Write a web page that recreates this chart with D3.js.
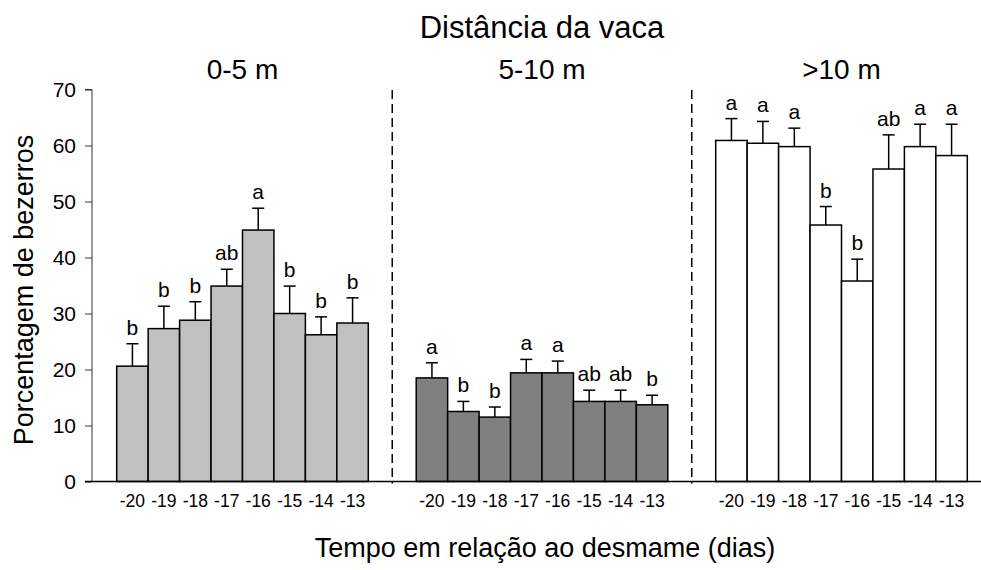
<!DOCTYPE html>
<html>
<head>
<meta charset="utf-8">
<script src="https://cdn.jsdelivr.net/npm/d3@7"></script>
<style>
  body { margin: 0; background: #fff; }
  text { font-family: Arial, "Liberation Sans", sans-serif; fill: #000; }
</style>
</head>
<body>
<script>
const width = 981;
const height = 570;

// data
const panels = ["0-5 m", "5-10 m", ">10 m"];
const days = ["-20", "-19", "-18", "-17", "-16", "-15", "-14", "-13"];
const yTicks = [0, 10, 20, 30, 40, 50, 60, 70];

const near = [20.6, 27.3, 28.8, 34.9, 44.9, 30.0, 26.2, 28.3];
const nearErr = [4.0, 4.0, 3.3, 3.0, 3.9, 4.9, 3.2, 4.5];
const nearLetters = ["b", "b", "b", "ab", "a", "b", "b", "b"];

const mid = [18.5, 12.5, 11.5, 19.4, 19.4, 14.3, 14.3, 13.7];
const midErr = [2.7, 1.8, 1.8, 2.4, 2.1, 2.0, 2.0, 1.7];
const midLetters = ["a", "b", "b", "a", "a", "ab", "ab", "b"];

const far = [60.9, 60.4, 59.8, 45.8, 35.8, 55.8, 59.8, 58.2];
const farErr = [3.9, 3.9, 3.3, 3.3, 3.9, 6.1, 4.0, 5.6];
const farLetters = ["a", "a", "a", "b", "b", "ab", "a", "a"];

const fills = ["#c0c0c0", "#808080", "#ffffff"];

let series = [
  { panel: panels[0], values: near, err: nearErr, letters: nearLetters },
  { panel: panels[1], values: mid, err: midErr, letters: midLetters },
  { panel: panels[2], values: far, err: farErr, letters: farLetters },
];

let data = [];
series.forEach((s, p) => {
  days.forEach((day, i) => {
    data.push({ panel: s.panel, p: p, day: day, value: s.values[i], err: s.err[i], letter: s.letters[i] });
  });
});

let svg = d3
  .select("body")
  .append("svg")
  .attr("width", width)
  .attr("height", height);

let margin = { top: 89.5, bottom: 88.5, left: 92 };

let yScale = d3
  .scaleLinear()
  .domain([0, 70])
  .range([height - margin.bottom, margin.top]);

let panelScale = d3
  .scaleBand()
  .domain(panels)
  .range([116.7, 967.3])
  .paddingInner(0.16);

let dayScale = d3
  .scaleBand()
  .domain(days)
  .range([0, panelScale.bandwidth()]);

let xPos = (d) => panelScale(d.panel) + dayScale(d.day);

// y axis
let leftAxis = d3.axisLeft(yScale).tickValues(yTicks).tickSize(7).tickPadding(9);
let yAxisG = svg
  .append("g")
  .attr("transform", `translate(${margin.left}, 0)`)
  .call(leftAxis);
yAxisG.attr("font-size", null).attr("font-family", null);
yAxisG.select(".domain").attr("stroke", "#333").attr("d", `M-7,${yScale(70)}H0V${yScale(0)}`);
yAxisG.selectAll(".tick line").attr("stroke", "#333");
yAxisG.selectAll(".tick text").style("font-size", "21px");

// dashed separators between panels
let gap = panelScale.step() - panelScale.bandwidth();
svg
  .selectAll("line.sep")
  .data(panels.slice(1))
  .join("line")
  .attr("class", "sep")
  .attr("x1", (d) => panelScale(d) - gap / 2)
  .attr("x2", (d) => panelScale(d) - gap / 2)
  .attr("y1", 90)
  .attr("y2", yScale(0) + 2)
  .attr("stroke", "#000")
  .attr("stroke-width", 1.5)
  .attr("stroke-dasharray", "9,5");

// error bars
let eb = svg.append("g").attr("stroke", "#000").attr("stroke-width", 1.5);
eb.selectAll("line.v")
  .data(data)
  .join("line")
  .attr("x1", (d) => xPos(d) + dayScale.bandwidth() / 2)
  .attr("x2", (d) => xPos(d) + dayScale.bandwidth() / 2)
  .attr("y1", (d) => yScale(d.value))
  .attr("y2", (d) => yScale(d.value + d.err));
eb.selectAll("line.cap")
  .data(data)
  .join("line")
  .attr("x1", (d) => xPos(d) + dayScale.bandwidth() / 2 - 6)
  .attr("x2", (d) => xPos(d) + dayScale.bandwidth() / 2 + 6)
  .attr("y1", (d) => yScale(d.value + d.err))
  .attr("y2", (d) => yScale(d.value + d.err));

// bars
svg
  .append("g")
  .selectAll("rect")
  .data(data)
  .join("rect")
  .attr("x", (d) => xPos(d))
  .attr("y", (d) => yScale(d.value))
  .attr("width", dayScale.bandwidth())
  .attr("height", (d) => yScale(0) - yScale(d.value))
  .attr("fill", (d) => fills[d.p])
  .attr("stroke", "#000")
  .attr("stroke-width", 1.5);

// baseline
svg
  .append("line")
  .attr("x1", margin.left - 7)
  .attr("x2", width)
  .attr("y1", yScale(0))
  .attr("y2", yScale(0))
  .attr("stroke", "#000")
  .attr("stroke-width", 1.5);

// significance letters
svg
  .append("g")
  .selectAll("text")
  .data(data)
  .join("text")
  .attr("x", (d) => xPos(d) + dayScale.bandwidth() / 2)
  .attr("y", (d) => yScale(d.value + d.err) - 9)
  .attr("text-anchor", "middle")
  .style("font-size", "21px")
  .text((d) => d.letter);

// x tick labels
svg
  .append("g")
  .selectAll("text")
  .data(data)
  .join("text")
  .attr("x", (d) => xPos(d) + dayScale.bandwidth() / 2)
  .attr("y", 507)
  .attr("text-anchor", "middle")
  .style("font-size", "17.5px")
  .text((d) => d.day);

// panel titles
svg
  .append("g")
  .selectAll("text")
  .data(panels)
  .join("text")
  .attr("x", (d) => panelScale(d) + panelScale.bandwidth() / 2)
  .attr("y", 79)
  .attr("text-anchor", "middle")
  .style("font-size", "28px")
  .text((d) => d);

svg
  .append("text")
  .attr("x", 542)
  .attr("y", 38)
  .attr("text-anchor", "middle")
  .style("font-size", "31px")
  .text("Distância da vaca");

svg
  .append("text")
  .attr("x", 545)
  .attr("y", 557)
  .attr("text-anchor", "middle")
  .style("font-size", "27px")
  .text("Tempo em relação ao desmame (dias)");

svg
  .append("text")
  .attr("transform", `translate(33, 290) rotate(-90)`)
  .attr("text-anchor", "middle")
  .style("font-size", "27px")
  .text("Porcentagem de bezerros");
</script>
</body>
</html>
